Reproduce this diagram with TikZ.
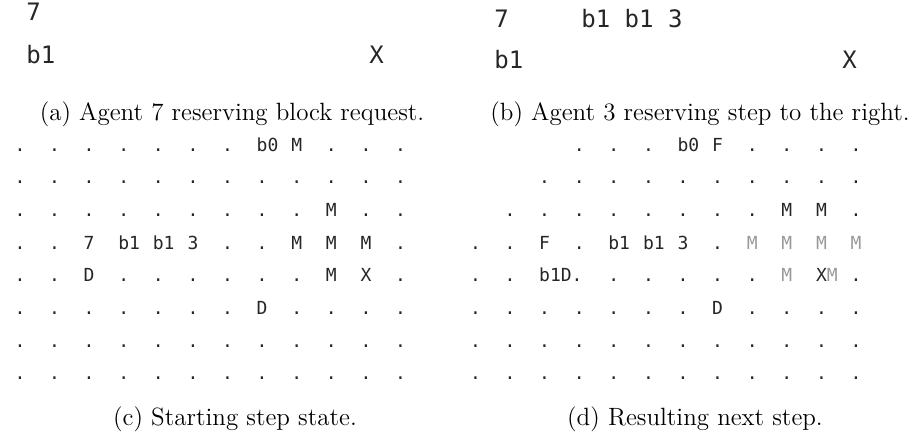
\documentclass[tikz,border=0pt]{standalone}
\usepackage{fontspec}
\newfontfamily\gridfont{DejaVu Sans Mono}
\newcommand{\faintM}{\textcolor{black!40}{M}}
\tikzset{
  cell/.style={anchor=base west, inner sep=0pt, text=black!85,
    font=\gridfont\fontsize{9}{9}\selectfont},
  screen/.style={anchor=base west, inner sep=0pt, text=black!85,
    font=\gridfont\fontsize{12}{12}\selectfont},
  subcap/.style={anchor=base, inner sep=0pt, font=\fontsize{12.5}{15}\selectfont}
}

\begin{document}
\begin{tikzpicture}[x=0.5pt,y=-0.5pt]
\useasboundingbox (0,0) rectangle (918,440);

% (a) agent 7
\node[screen] (a-seven) at (26,20) {7};
\node[screen] (a-bone) at (26,63) {b1};
\node[screen] (a-x) at (369,63) {X};
\node[subcap] (cap-a) at (232,120) {(a) Agent 7 reserving block request.};

% (b) agent 3
\node[screen] (b-seven) at (494,27) {7};
\node[screen] (b-row) at (581,27) {b1 b1 3};
\node[screen] (b-bone) at (494,68) {b1};
\node[screen] (b-x) at (842,68) {X};
\node[subcap] (cap-b) at (700,120) {(b) Agent 3 reserving step to the right.};

% (c) starting state
\foreach \row [count=\r] in {
  {.,.,.,.,.,.,.,b0,M,.,.,.},
  {.,.,.,.,.,.,.,.,.,.,.,.},
  {.,.,.,.,.,.,.,.,.,M,.,.},
  {.,.,7,b1,b1,3,.,.,M,M,M,.},
  {.,.,D,.,.,.,.,.,.,M,X,.},
  {.,.,.,.,.,.,.,D,.,.,.,.},
  {.,.,.,.,.,.,.,.,.,.,.,.},
  {.,.,.,.,.,.,.,.,.,.,.,.}}
  \foreach \cell [count=\c] in \row
    \node[cell] (c-\r-\c) at ({14.1+34.6*(\c-1)},{151+32.7*(\r-1)}) {\cell};
\node[subcap] (cap-c) at (235,425) {(c) Starting step state.};

% (d) next step
\foreach \row [count=\r] in {
  {,,,.,.,.,b0,F,.,.,.,.},
  {,,.,.,.,.,.,.,.,.,.,.},
  {,.,.,.,.,.,.,.,.,M,M,.},
  {.,.,F,.,b1,b1,3,.,\faintM,\faintM,\faintM,\faintM},
  {.,.,b1D.,,.,.,.,.,.,\faintM,X\faintM,.},
  {.,.,.,.,.,.,.,D,.,.,.,.},
  {.,.,.,.,.,.,.,.,.,.,.,.},
  {.,.,.,.,.,.,.,.,.,.,.,.}}
  \foreach \cell [count=\c] in \row {
    \ifx\cell\empty\else
      \node[cell] (d-\r-\c) at ({469.6+34.6*(\c-1)},{151+32.7*(\r-1)}) {\cell};
    \fi
  }
\node[subcap] (cap-d) at (695,425) {(d) Resulting next step.};
\end{tikzpicture}
\end{document}
